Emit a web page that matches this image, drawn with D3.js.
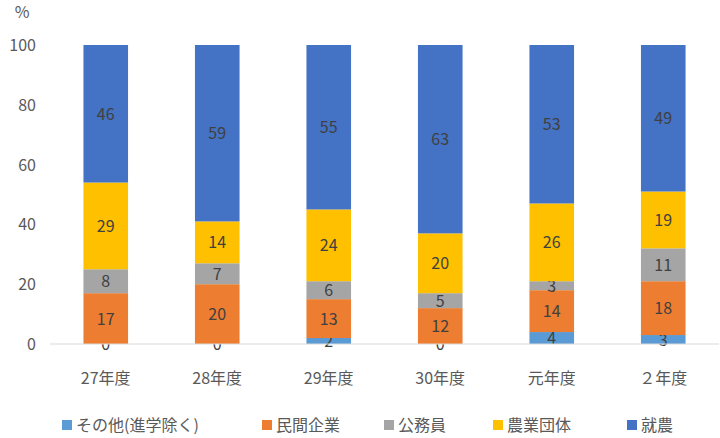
<!DOCTYPE html>
<html><head><meta charset="utf-8">
<script src="https://cdn.jsdelivr.net/npm/d3@7"></script>
<style>body{margin:0;background:#fff}svg{font-family:"Noto Sans CJK JP","Noto Sans",sans-serif}</style>
</head><body><svg id="c" width="720" height="438"></svg>
<script>
const categories=["27年度","28年度","29年度","30年度","元年度","２年度"];
const seriesNames=["その他(進学除く)","民間企業","公務員","農業団体","就農"];
const other=[0,0,2,0,4,3];
const privateCo=[17,20,13,12,14,18];
const civil=[8,7,6,5,3,11];
const agriGroup=[29,14,24,20,26,19];
const farming=[46,59,55,63,53,49];
const yTicks=[0,20,40,60,80,100];
const colors=["#5B9BD5","#ED7D31","#A5A5A5","#FFC000","#4472C4"];
const seriesVals=[other,privateCo,civil,agriGroup,farming];

const svg=d3.select("#c");
const x=d3.scaleBand().domain(categories).range([50,719]).paddingInner(0.6).paddingOuter(0.3);
const y=d3.scaleLinear().domain([0,100]).range([344,45]);

svg.append("g").selectAll("text").data(yTicks).join("text")
 .attr("x",36).attr("y",d=>y(d)+6).attr("text-anchor","end")
 .attr("font-size",16).attr("fill","#595959").text(d=>d);
svg.append("text").attr("x",22).attr("y",18).attr("text-anchor","middle").attr("font-size",16).attr("fill","#595959").text("%");

const rows=categories.map((c,i)=>{const o={cat:c};seriesNames.forEach((s,k)=>o[s]=seriesVals[k][i]);return o;});
const stack=d3.stack().keys(seriesNames)(rows);
stack.forEach((layer,k)=>{
 const g=svg.append("g");
 g.selectAll("rect").data(layer).join("rect")
  .attr("x",d=>x(d.data.cat)).attr("width",x.bandwidth())
  .attr("y",d=>y(d[1])).attr("height",d=>y(d[0])-y(d[1]))
  .attr("fill",colors[k]);
 g.selectAll("text").data(layer).join("text")
  .attr("x",d=>x(d.data.cat)+x.bandwidth()/2)
  .attr("y",d=>y((d[0]+d[1])/2)+6)
  .attr("text-anchor","middle").attr("font-size",16).attr("fill","#404040")
  .text(d=>d[1]-d[0]);
});
svg.append("line").attr("x1",50).attr("x2",719).attr("y1",344).attr("y2",344).attr("stroke","#D9D9D9");
svg.append("g").selectAll("text").data(categories).join("text")
 .attr("x",d=>x(d)+x.bandwidth()/2).attr("y",384).attr("text-anchor","middle")
 .attr("font-size",16).attr("fill","#595959").text(d=>d);

const legX=[62,262,384,493,627];
const lg=svg.append("g");
seriesNames.forEach((s,k)=>{
 lg.append("rect").attr("x",legX[k]).attr("y",420).attr("width",10).attr("height",10).attr("fill",colors[k]);
 lg.append("text").attr("x",legX[k]+14).attr("y",431).attr("font-size",16).attr("fill","#595959").text(s);
});
</script></body></html>
